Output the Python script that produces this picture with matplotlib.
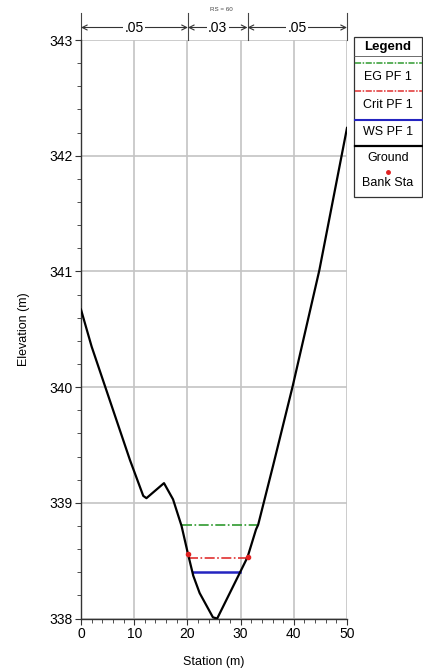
import matplotlib
matplotlib.use("Agg")
import matplotlib.pyplot as plt
from matplotlib.lines import Line2D
from matplotlib.patches import Rectangle
import matplotlib.transforms as mtransforms

plt.rcParams['font.family'] = ['Liberation Sans', 'DejaVu Sans']

# ---- data ----
station = [0, 2.0, 9.2, 11.7, 12.3, 15.6, 17.3, 18.9, 20.1, 21.1, 22.3,
           24.8, 25.6, 29.8, 31.3, 32.9, 33.3, 36.1, 39.8, 44.8, 50]
elevation = [340.67, 340.35, 339.37, 339.06, 339.04, 339.17, 339.03, 338.80,
             338.56, 338.37, 338.22, 338.01, 338.00, 338.39, 338.53, 338.77,
             338.81, 339.32, 340.01, 341.01, 342.24]
bank_sta = [20.1, 31.3]
bank_elev = [338.56, 338.53]
eg_x = [18.9, 33.1]
eg_elev = 338.81
crit_x = [20.2, 31.3]
crit_elev = 338.52
ws_x = [21.1, 29.8]
ws_elev = 338.40
n_edges = [0, 20.1, 31.3, 50]
n_values = ['.05', '.03', '.05']
rs_label = 'RS = 60'

W, H = 423, 669
fig = plt.figure(figsize=(W / 100, H / 100), dpi=100)
ax = fig.add_axes([81 / W, 1 - 618.5 / H, (347 - 81) / W, (618.5 - 40) / H])

ax.set_xlim(0, 50)
ax.set_ylim(338, 343)
ax.set_xticks(range(0, 51, 10))
ax.set_yticks(range(338, 344))
ax.set_xticks(range(0, 51, 2), minor=True)
ax.set_yticks([338 + i * 0.2 for i in range(26)], minor=True)
ax.grid(True, which='major', color='#c4c4c4', linewidth=1.2)
ax.set_axisbelow(True)
for s in ['top', 'right']:
    ax.spines[s].set_visible(False)
for s in ['left', 'bottom']:
    ax.spines[s].set_color('#333333')
    ax.spines[s].set_linewidth(1.0)
ax.tick_params(which='major', length=4, labelsize=10, color='#333333', pad=2)
ax.tick_params(which='minor', length=3, color='#333333')
ax.set_xlabel('Station (m)', fontsize=9, labelpad=11)
ax.set_ylabel('Elevation (m)', fontsize=9, labelpad=14)

# water surfaces
ax.plot(eg_x, [eg_elev] * 2, color='#2f9a2f', lw=1.2, ls=(0, (6, 1.5, 1, 1.5)))
ax.plot(crit_x, [crit_elev] * 2, color='#e03030', lw=1.2, ls=(0, (6, 1.5, 1, 1.5)))
ax.plot(ws_x, [ws_elev] * 2, color='#2424c0', lw=1.8)
# ground
ax.plot(station, elevation, color='black', lw=1.6, zorder=5)
ax.plot(bank_sta, bank_elev, 'o', color='#e02020', ms=3, zorder=6)

# Manning's n annotation above axes
trans = mtransforms.blended_transform_factory(ax.transData, fig.transFigure)
y_top = 1 - 13 / H
y_bot = 1 - 40 / H
y_arr = 1 - 27.5 / H
for xe in n_edges:
    ax.add_line(Line2D([xe, xe], [y_bot, y_top], transform=trans, color='#444444',
                       lw=0.8, clip_on=False))
for i, lab in enumerate(n_values):
    x0, x1 = n_edges[i], n_edges[i + 1]
    ax.annotate('', xy=(x0, y_arr), xytext=(x1, y_arr), xycoords=trans, textcoords=trans,
                arrowprops=dict(arrowstyle='<->', color='#333333', lw=0.8,
                                shrinkA=0, shrinkB=0, mutation_scale=9))
    ax.text((x0 + x1) / 2, y_arr, lab, transform=trans, ha='center', va='center',
            fontsize=10,
            bbox=dict(facecolor='white', edgecolor='none', pad=1))
fig.text(221.5 / W, 1 - 9.5 / H, rs_label, fontsize=4.5, ha='center', va='center',
         color='#444444')

# legend box (figure pixel coords)
def fx(px):
    return px / W

def fy(py):
    return 1 - py / H

fig.patches.append(Rectangle((fx(353.5), fy(197)), fx(422) - fx(353.5), fy(37) - fy(197),
                             transform=fig.transFigure, facecolor='white',
                             edgecolor='#333333', lw=0.9))
fig.text(fx(388), fy(47), 'Legend', fontsize=9.5, weight='bold', ha='center', va='center')
fig.lines.append(Line2D([fx(353.5), fx(422)], [fy(55.5)] * 2, transform=fig.transFigure,
                        color='#555555', lw=0.6))
fig.lines.append(Line2D([fx(355), fx(422)], [fy(63)] * 2, transform=fig.transFigure,
                        color='#2f9a2f', lw=1.1, ls=(0, (4, 1, 1, 1))))
fig.text(fx(388), fy(76.5), 'EG PF 1', fontsize=9, ha='center', va='center')
fig.lines.append(Line2D([fx(355), fx(422)], [fy(91)] * 2, transform=fig.transFigure,
                        color='#e03030', lw=1.1, ls=(0, (4, 1, 1, 1))))
fig.text(fx(388), fy(104.5), 'Crit PF 1', fontsize=9, ha='center', va='center')
fig.lines.append(Line2D([fx(355), fx(422)], [fy(119.5)] * 2, transform=fig.transFigure,
                        color='#2424c0', lw=1.5))
fig.text(fx(388), fy(132), 'WS PF 1', fontsize=9, ha='center', va='center')
fig.lines.append(Line2D([fx(355), fx(422)], [fy(146)] * 2, transform=fig.transFigure,
                        color='black', lw=1.6))
fig.text(fx(388), fy(158), 'Ground', fontsize=9, ha='center', va='center')
fig.lines.append(Line2D([fx(388)], [fy(171.5)], transform=fig.transFigure,
                        color='#e02020', marker='o', ms=2.5, ls='none'))
fig.text(fx(388), fy(183), 'Bank Sta', fontsize=9, ha='center', va='center')

fig.savefig('out.png', dpi=100)
